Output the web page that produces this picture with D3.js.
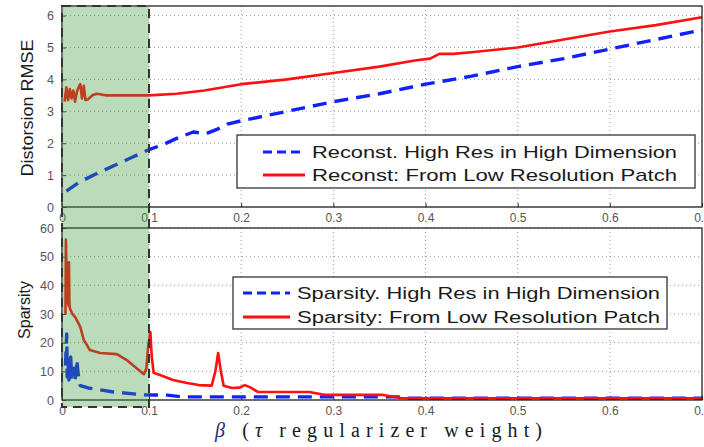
<!DOCTYPE html>
<html>
<head>
<meta charset="utf-8">
<script src="https://cdn.jsdelivr.net/npm/d3@7"></script>
<style>
  body { margin: 0; background: #fff; }
  svg { display: block; }
  .tick text { font-family: Arial, "Liberation Sans", sans-serif; font-size: 12px; fill: #555; }
  .grid line { stroke: #9a9a9a; stroke-dasharray: 1,3; }
</style>
</head>
<body>
<figure id="chart" style="margin:0"></figure>
<script>
// beta values and curves, top panel (distortion RMSE)
var rmseHighBeta = [0.005, 0.02, 0.04, 0.06, 0.08, 0.1, 0.115, 0.13, 0.148, 0.162, 0.175, 0.185, 0.2, 0.25, 0.3, 0.35, 0.4, 0.45, 0.5, 0.55, 0.6, 0.65, 0.7];
var rmseHigh = [0.5, 0.78, 1.05, 1.3, 1.55, 1.8, 1.95, 2.15, 2.35, 2.3, 2.45, 2.6, 2.7, 3.0, 3.3, 3.55, 3.85, 4.1, 4.4, 4.65, 4.95, 5.25, 5.55];

var rmseLowBeta = [0.003, 0.005, 0.007, 0.009, 0.011, 0.013, 0.015, 0.017, 0.019, 0.021, 0.023, 0.025, 0.027, 0.03, 0.035, 0.04, 0.05, 0.1, 0.13, 0.16, 0.2, 0.25, 0.3, 0.35, 0.39, 0.405, 0.415, 0.43, 0.45, 0.5, 0.55, 0.6, 0.65, 0.7];
var rmseLow = [3.3, 3.75, 3.35, 3.7, 3.4, 3.65, 3.3, 3.6, 3.75, 3.85, 3.4, 3.8, 3.35, 3.38, 3.5, 3.55, 3.5, 3.5, 3.55, 3.65, 3.85, 4.0, 4.2, 4.4, 4.6, 4.65, 4.8, 4.8, 4.85, 5.0, 5.25, 5.5, 5.7, 5.95];

// bottom panel (sparsity)
var sparHighBeta = [0.004, 0.0054, 0.006, 0.007, 0.008, 0.009, 0.01, 0.011, 0.013, 0.015, 0.017, 0.019, 0.021, 0.03, 0.059, 0.094, 0.12, 0.135, 0.37, 0.38, 0.7];
var sparHigh = [12, 23, 8, 14, 7, 10, 15, 8, 11, 7, 14, 8, 5, 4.2, 2.8, 1.8, 1.7, 1.1, 1.1, 0.6, 0.6];

var sparLowBeta = [0.004, 0.0045, 0.0055, 0.006, 0.0065, 0.007, 0.0075, 0.008, 0.0085, 0.009, 0.012, 0.015, 0.021, 0.025, 0.029, 0.032, 0.044, 0.063, 0.074, 0.09, 0.094, 0.097, 0.099, 0.1015, 0.103, 0.105, 0.112, 0.126, 0.14, 0.154, 0.168, 0.172, 0.175, 0.178, 0.181, 0.19, 0.198, 0.204, 0.21, 0.218, 0.274, 0.29, 0.353, 0.373, 0.4, 0.7];
var sparLow = [30, 56, 40, 48, 34, 47, 33, 48, 34, 32, 30, 29, 25.5, 21, 19, 17.4, 16.4, 16, 14, 10, 9, 11, 18.5, 23.7, 15, 9.5, 8.7, 7, 6, 5.2, 5, 10, 16.4, 10, 5, 4.2, 4.3, 5.2, 4.4, 2.8, 2.8, 1.8, 1.8, 0.7, 0.6, 0.6];

var xTicks = [0, 0.1, 0.2, 0.3, 0.4, 0.5, 0.6, 0.7];
var rmseTicks = [0, 1, 2, 3, 4, 5, 6];
var sparTicks = [0, 10, 20, 30, 40, 50, 60];

var legendTop = ["Reconst. High Res in High Dimension", "Reconst: From Low Resolution Patch"];
var legendBottom = ["Sparsity. High Res in High Dimension", "Sparsity: From Low Resolution Patch"];

var width = 704, height = 447;
var left = 62, right = 702;

var svg = d3.select("figure#chart")
    .append("svg")
    .attr("width", width)
    .attr("height", height);

// the first tenth is drawn a little narrower than the rest
var x = d3.scaleLinear()
    .domain([0, 0.1, 0.7])
    .range([left, 149, right]);

var yTop = d3.scaleLinear().domain([0, 6.3]).range([207, 6]);
var yBot = d3.scaleLinear().domain([0, 60]).range([400, 228]);

function zip(xs, ys) { return xs.map((b, i) => [b, ys[i]]); }

function panel(y, ticks, yTop0, yBottom0) {
    var g = svg.append("g");

    // grid
    g.append("g").attr("class", "grid")
        .selectAll("line.v").data(xTicks.slice(1, -1)).enter()
        .append("line")
        .attr("x1", d => x(d)).attr("x2", d => x(d))
        .attr("y1", yTop0).attr("y2", yBottom0);
    g.append("g").attr("class", "grid")
        .selectAll("line.h").data(ticks).enter()
        .append("line")
        .attr("x1", left).attr("x2", right)
        .attr("y1", d => y(d)).attr("y2", d => y(d));

    var xAxis = g.append("g")
        .attr("transform", `translate(0, ${yBottom0})`)
        .call(d3.axisBottom(x).tickValues(xTicks).tickFormat(d3.format("")).tickSizeInner(-4).tickSizeOuter(0).tickPadding(6));
    xAxis.select(".domain").remove();
    xAxis.selectAll(".tick line").attr("stroke", "#333");

    var yAxis = g.append("g")
        .attr("transform", `translate(${left}, 0)`)
        .call(d3.axisLeft(y).tickValues(ticks).tickFormat(d3.format("d")).tickSizeInner(-4).tickSizeOuter(0).tickPadding(8));
    yAxis.select(".domain").remove();
    yAxis.selectAll(".tick line").attr("stroke", "#333");
    yAxis.selectAll("text").style("font-size", "12.5px");

    return g;
}

var gTop = panel(yTop, rmseTicks, 6, 207);
var gBot = panel(yBot, sparTicks, 228, 400);

function drawLine(g, y, pts, color, dashed) {
    g.append("path")
        .datum(pts)
        .attr("fill", "none")
        .attr("stroke", color)
        .attr("stroke-width", dashed ? 3.4 : 2.6)
        .attr("stroke-dasharray", dashed ? "14,8" : null)
        .attr("stroke-linejoin", "round")
        .attr("d", d3.line().x(d => x(d[0])).y(d => y(d[1])));
}

drawLine(gTop, yTop, zip(rmseLowBeta, rmseLow), "#ff1010", false);
drawLine(gTop, yTop, zip(rmseHighBeta, rmseHigh), "#1020ff", true);
drawLine(gBot, yBot, zip(sparHighBeta, sparHigh), "#1020ff", true);
drawLine(gBot, yBot, zip(sparLowBeta, sparLow), "#ff1010", false);

// frames
[[6, 207], [228, 400]].forEach(function(r) {
    svg.append("rect")
        .attr("x", left).attr("y", r[0])
        .attr("width", right - left).attr("height", r[1] - r[0])
        .attr("fill", "none").attr("stroke", "#222").attr("stroke-width", 1.3);
});

// shaded small-beta region, laid over both panels
svg.append("rect")
    .attr("x", x(0)).attr("y", 6)
    .attr("width", x(0.1) - x(0)).attr("height", 401)
    .attr("fill", "#3d9a3d").attr("fill-opacity", 0.35)
    .attr("stroke", "#333").attr("stroke-width", 2)
    .attr("stroke-dasharray", "9,6");

// legends
function legend(labels, bx, by, bw, bh, lx0, lx1, tx, rows, tlen) {
    var g = svg.append("g");
    g.append("rect")
        .attr("x", bx).attr("y", by).attr("width", bw).attr("height", bh)
        .attr("fill", "#fff").attr("stroke", "#333").attr("stroke-width", 1.3);
    var styles = [["#1020ff", "9,5", 3], ["#ff1010", null, 3]];
    labels.forEach(function(t, i) {
        g.append("line")
            .attr("x1", lx0).attr("x2", lx1)
            .attr("y1", rows[i]).attr("y2", rows[i])
            .attr("stroke", styles[i][0])
            .attr("stroke-dasharray", styles[i][1])
            .attr("stroke-width", styles[i][2]);
        g.append("text")
            .attr("x", tx).attr("y", rows[i])
            .attr("dy", "0.36em")
            .attr("textLength", tlen[i])
            .attr("lengthAdjust", "spacingAndGlyphs")
            .style("font-family", "Arial, 'Liberation Sans', sans-serif")
            .style("font-size", "17px")
            .style("fill", "#1a1a1a")
            .text(t);
    });
}

legend(legendTop, 237, 135, 458, 53, 263, 305, 312, [152, 175], [365, 365]);
legend(legendBottom, 233, 277, 434, 52, 243, 290, 297, [293, 317], [363, 363]);

// axis titles
svg.append("text")
    .attr("transform", "translate(33, 108) rotate(-90)")
    .attr("text-anchor", "middle")
    .attr("textLength", 137)
    .attr("lengthAdjust", "spacingAndGlyphs")
    .style("font-family", "Arial, 'Liberation Sans', sans-serif")
    .style("font-size", "17px")
    .style("fill", "#1a1a1a")
    .text("Distorsion RMSE");

svg.append("text")
    .attr("transform", "translate(30, 310) rotate(-90)")
    .attr("text-anchor", "middle")
    .style("font-family", "Arial, 'Liberation Sans', sans-serif")
    .style("font-size", "16px")
    .style("fill", "#1a1a1a")
    .text("Sparsity");

var xLabel = svg.append("text")
    .attr("x", 215).attr("y", 437)
    .attr("textLength", 327)
    .attr("lengthAdjust", "spacing")
    .style("font-family", "'Liberation Serif', 'DejaVu Serif', serif")
    .style("font-size", "20px")
    .style("fill", "#1a1a1a");
xLabel.append("tspan").style("font-style", "italic").style("fill", "#1a2a7a").text("β");
xLabel.append("tspan").text(" (");
xLabel.append("tspan").style("font-style", "italic").text("τ");
xLabel.append("tspan").text("  regularizer weight)");
</script>
</body>
</html>
